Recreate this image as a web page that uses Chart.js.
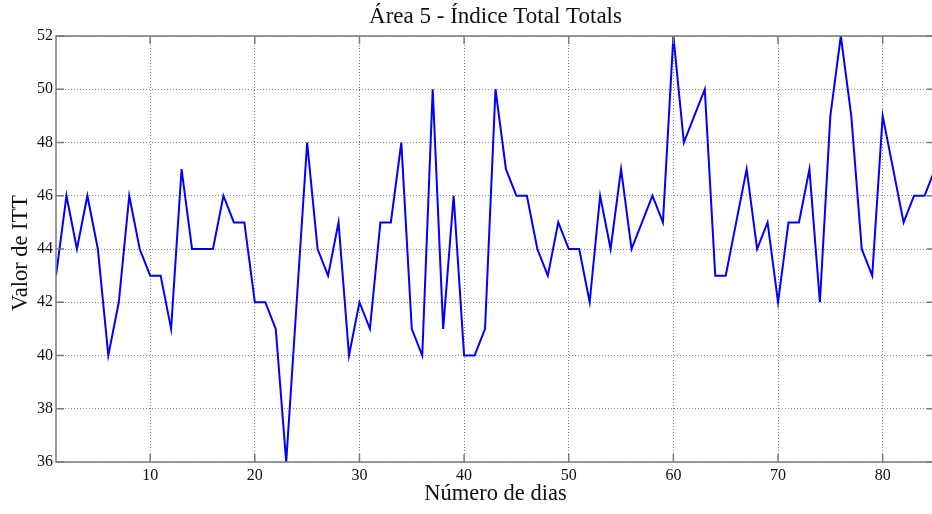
<!DOCTYPE html>
<html>
<head>
<meta charset="utf-8">
<script src="https://cdn.jsdelivr.net/npm/chart.js@4/dist/chart.umd.min.js"></script>
<style>
  html, body { margin: 0; padding: 0; background: #fff; }
  #wrap { width: 932px; height: 514px; overflow: hidden; position: relative; }
  canvas { display: block; }
</style>
</head>
<body>
<div id="wrap"><canvas id="c" width="940" height="514"></canvas></div>
<script>
// Day number (x) and Total Totals index value (y)
const days = [
  1, 2, 3, 4, 5, 6, 7, 8, 9, 10,
  11, 12, 13, 14, 15, 16, 17, 18, 19, 20,
  21, 22, 23, 24, 25, 26, 27, 28, 29, 30,
  31, 32, 33, 34, 35, 36, 37, 38, 39, 40,
  41, 42, 43, 44, 45, 46, 47, 48, 49, 50,
  51, 52, 53, 54, 55, 56, 57, 58, 59, 60,
  61, 62, 63, 64, 65, 66, 67, 68, 69, 70,
  71, 72, 73, 74, 75, 76, 77, 78, 79, 80,
  81, 82, 83, 84, 85
];
const ittValues = [
  43, 46, 44, 46, 44, 40, 42, 46, 44, 43,
  43, 41, 47, 44, 44, 44, 46, 45, 45, 42,
  42, 41, 36, 42, 48, 44, 43, 45, 40, 42,
  41, 45, 45, 48, 41, 40, 50, 41, 46, 40,
  40, 41, 50, 47, 46, 46, 44, 43, 45, 44,
  44, 42, 46, 44, 47, 44, 45, 46, 45, 52,
  48, 49, 50, 43, 43, 45, 47, 44, 45, 42,
  45, 45, 47, 42, 49, 52, 49, 44, 43, 49,
  47, 45, 46, 46, 47
];
const xTicks = [10, 20, 30, 40, 50, 60, 70, 80];
const yTicks = [36, 38, 40, 42, 44, 46, 48, 50, 52];

const chartTitle = 'Área 5 - Índice Total Totals';
const xTitle = 'Número de dias';
const yTitle = 'Valor de ITT';

const SERIF = '"Liberation Serif", "Times New Roman", serif';
const FRAME = '#7a7a7a';

// Box around the plot, inward tick marks on all four sides, and the titles
const framePlugin = {
  id: 'frame',
  afterDraw(chart) {
    const { ctx, chartArea: a, scales } = chart;
    const tl = 8;
    ctx.save();
    ctx.strokeStyle = FRAME;
    ctx.lineWidth = 1.5;
    ctx.strokeRect(a.left, a.top, a.right - a.left, a.bottom - a.top);
    ctx.beginPath();
    xTicks.forEach(v => {
      const px = scales.x.getPixelForValue(v);
      ctx.moveTo(px, a.bottom); ctx.lineTo(px, a.bottom - tl);
      ctx.moveTo(px, a.top); ctx.lineTo(px, a.top + tl);
    });
    yTicks.forEach(v => {
      const py = scales.y.getPixelForValue(v);
      ctx.moveTo(a.left, py); ctx.lineTo(a.left + tl, py);
      ctx.moveTo(a.right, py); ctx.lineTo(a.right - tl, py);
    });
    ctx.stroke();

    const cx = (a.left + a.right) / 2;
    const cy = (a.top + a.bottom) / 2;
    ctx.fillStyle = '#111';
    ctx.textAlign = 'center';
    ctx.textBaseline = 'middle';
    ctx.font = '23px ' + SERIF;
    ctx.fillText(chartTitle, cx, 17);
    ctx.font = '22.5px ' + SERIF;
    ctx.fillText(xTitle, cx, 494);
    ctx.translate(21, cy + 4);
    ctx.rotate(-Math.PI / 2);
    ctx.fillText(yTitle, 0, 0);
    ctx.restore();
  }
};

new Chart(document.getElementById('c'), {
  type: 'line',
  data: {
    datasets: [{
      data: days.map((d, i) => ({ x: d, y: ittValues[i] })),
      borderColor: '#0000ff',
      borderWidth: 2,
      pointRadius: 0,
      tension: 0,
      fill: false
    }]
  },
  options: {
    responsive: false,
    animation: false,
    layout: { padding: { top: 36, right: 5, left: 0, bottom: 0 } },
    plugins: {
      legend: { display: false },
      title: { display: false },
      tooltip: { enabled: false }
    },
    scales: {
      x: {
        type: 'linear',
        min: 1,
        max: 85,
        afterBuildTicks: axis => { axis.ticks = xTicks.map(v => ({ value: v })); },
        afterFit: axis => { axis.height = 52; },
        grid: { color: '#8a8a8a', lineWidth: 1, drawTicks: false },
        border: { display: false, dash: [1, 2] },
        ticks: {
          padding: 4,
          maxRotation: 0,
          autoSkip: false,
          color: '#111',
          font: { family: SERIF, size: 16 }
        }
      },
      y: {
        min: 36,
        max: 52,
        afterBuildTicks: axis => { axis.ticks = yTicks.map(v => ({ value: v })); },
        afterFit: axis => { axis.width = 56; },
        grid: { color: '#8a8a8a', lineWidth: 1, drawTicks: false },
        border: { display: false, dash: [1, 2] },
        ticks: {
          padding: 3,
          color: '#111',
          font: { family: SERIF, size: 16 }
        }
      }
    }
  },
  plugins: [framePlugin]
});
</script>
</body>
</html>
